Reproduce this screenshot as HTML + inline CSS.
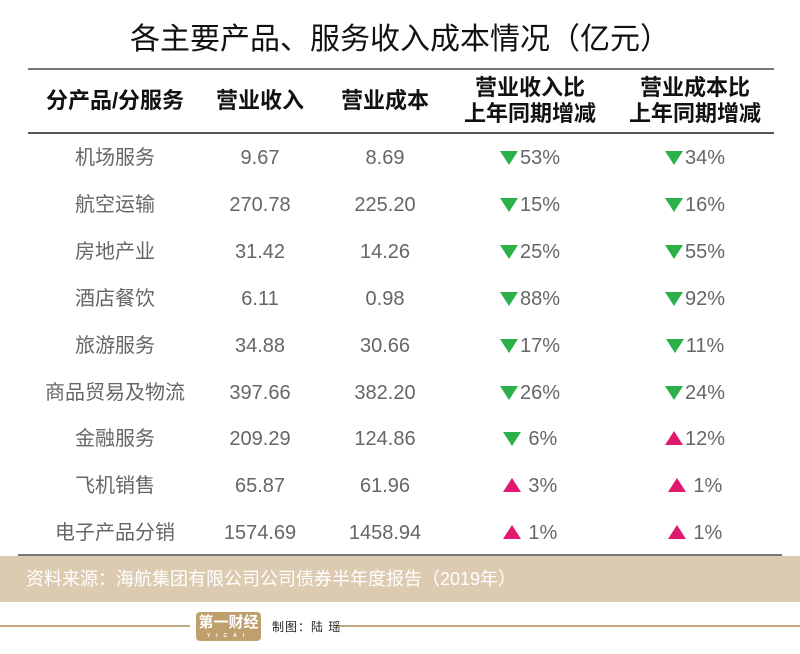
<!DOCTYPE html>
<html><head><meta charset="utf-8"><style>
body{margin:0;width:800px;height:654px;background:#fff;font-family:"Liberation Sans","Noto Sans CJK SC",sans-serif;position:relative;overflow:hidden}
.a{position:absolute}
.t{left:0;width:800px;top:20px;text-align:center;font-size:30px;color:#111;line-height:40px}
.h{font-weight:bold;font-size:22px;color:#111;text-align:center;line-height:26px;white-space:nowrap}
.r{position:absolute;font-size:20px;color:#666;text-align:center;width:160px;height:26px;line-height:26px;white-space:nowrap}
.dn{display:inline-block;width:0;height:0;border-left:9px solid transparent;border-right:9px solid transparent;border-top:14px solid #2bb04a;vertical-align:-1px;margin-right:2px}
.up{display:inline-block;width:0;height:0;border-left:9px solid transparent;border-right:9px solid transparent;border-bottom:14px solid #e0186e;vertical-align:0px;margin-right:2px}
</style></head><body>
<div class="a t">各主要产品、服务收入成本情况（亿元）</div>
<div class="a" style="left:28px;top:68px;width:746px;height:2px;background:#777"></div>
<div class="a" style="left:28px;top:132px;width:746px;height:2px;background:#555"></div>
<div class="a h" style="left:30px;width:170px;top:88px">分产品/分服务</div>
<div class="a h" style="left:200px;width:120px;top:88px">营业收入</div>
<div class="a h" style="left:325px;width:120px;top:88px">营业成本</div>
<div class="a h" style="left:450px;width:160px;top:75px">营业收入比<br>上年同期增减</div>
<div class="a h" style="left:615px;width:160px;top:75px">营业成本比<br>上年同期增减</div>
<div id="rows"></div>
<div class="a" style="left:18px;top:554px;width:764px;height:2px;background:#777"></div>
<div class="a" style="left:0;top:556px;width:800px;height:46px;background:#dccbb1"></div>
<div class="a" style="left:26px;top:566px;font-size:18px;line-height:26px;color:#fff">资料来源：海航集团有限公司公司债券半年度报告（2019年）</div>
<div class="a" style="left:0;top:625px;width:190px;height:2px;background:#c2a77e"></div>
<div class="a" style="left:336px;top:625px;width:464px;height:2px;background:#c2a77e"></div>
<div class="a" style="left:196px;top:612px;width:65px;height:29px;background:#bf9f6e;border-radius:4px;color:#fff;font-weight:bold;font-size:15px;text-align:center;line-height:22px;overflow:hidden">第一财经<div style="font-size:5px;line-height:5px;letter-spacing:6px">YICAI</div></div>
<div class="a" style="left:272px;top:618px;font-size:12px;line-height:18px;color:#222;letter-spacing:1px">制图：陆 瑶</div>
<script>
var d=[["机场服务","9.67","8.69",0,"53%",0,"34%"],["航空运输","270.78","225.20",0,"15%",0,"16%"],["房地产业","31.42","14.26",0,"25%",0,"55%"],["酒店餐饮","6.11","0.98",0,"88%",0,"92%"],["旅游服务","34.88","30.66",0,"17%",0,"11%"],["商品贸易及物流","397.66","382.20",0,"26%",0,"24%"],["金融服务","209.29","124.86",0,"&nbsp;6%",1,"12%"],["飞机销售","65.87","61.96",1,"&nbsp;3%",1,"&nbsp;1%"],["电子产品分销","1574.69","1458.94",1,"&nbsp;1%",1,"&nbsp;1%"]];
var h="";d.forEach(function(r,i){var y=145+i*46.9;
h+='<div class="r" style="left:35px;top:'+y+'px">'+r[0]+'</div><div class="r" style="left:180px;top:'+y+'px">'+r[1]+'</div><div class="r" style="left:305px;top:'+y+'px">'+r[2]+'</div>';
h+='<div class="r" style="left:450px;top:'+y+'px"><span class="'+(r[3]?"up":"dn")+'"></span>'+r[4]+'</div><div class="r" style="left:615px;top:'+y+'px"><span class="'+(r[5]?"up":"dn")+'"></span>'+r[6]+'</div>';});
document.getElementById("rows").innerHTML=h;
</script>
</body></html>
